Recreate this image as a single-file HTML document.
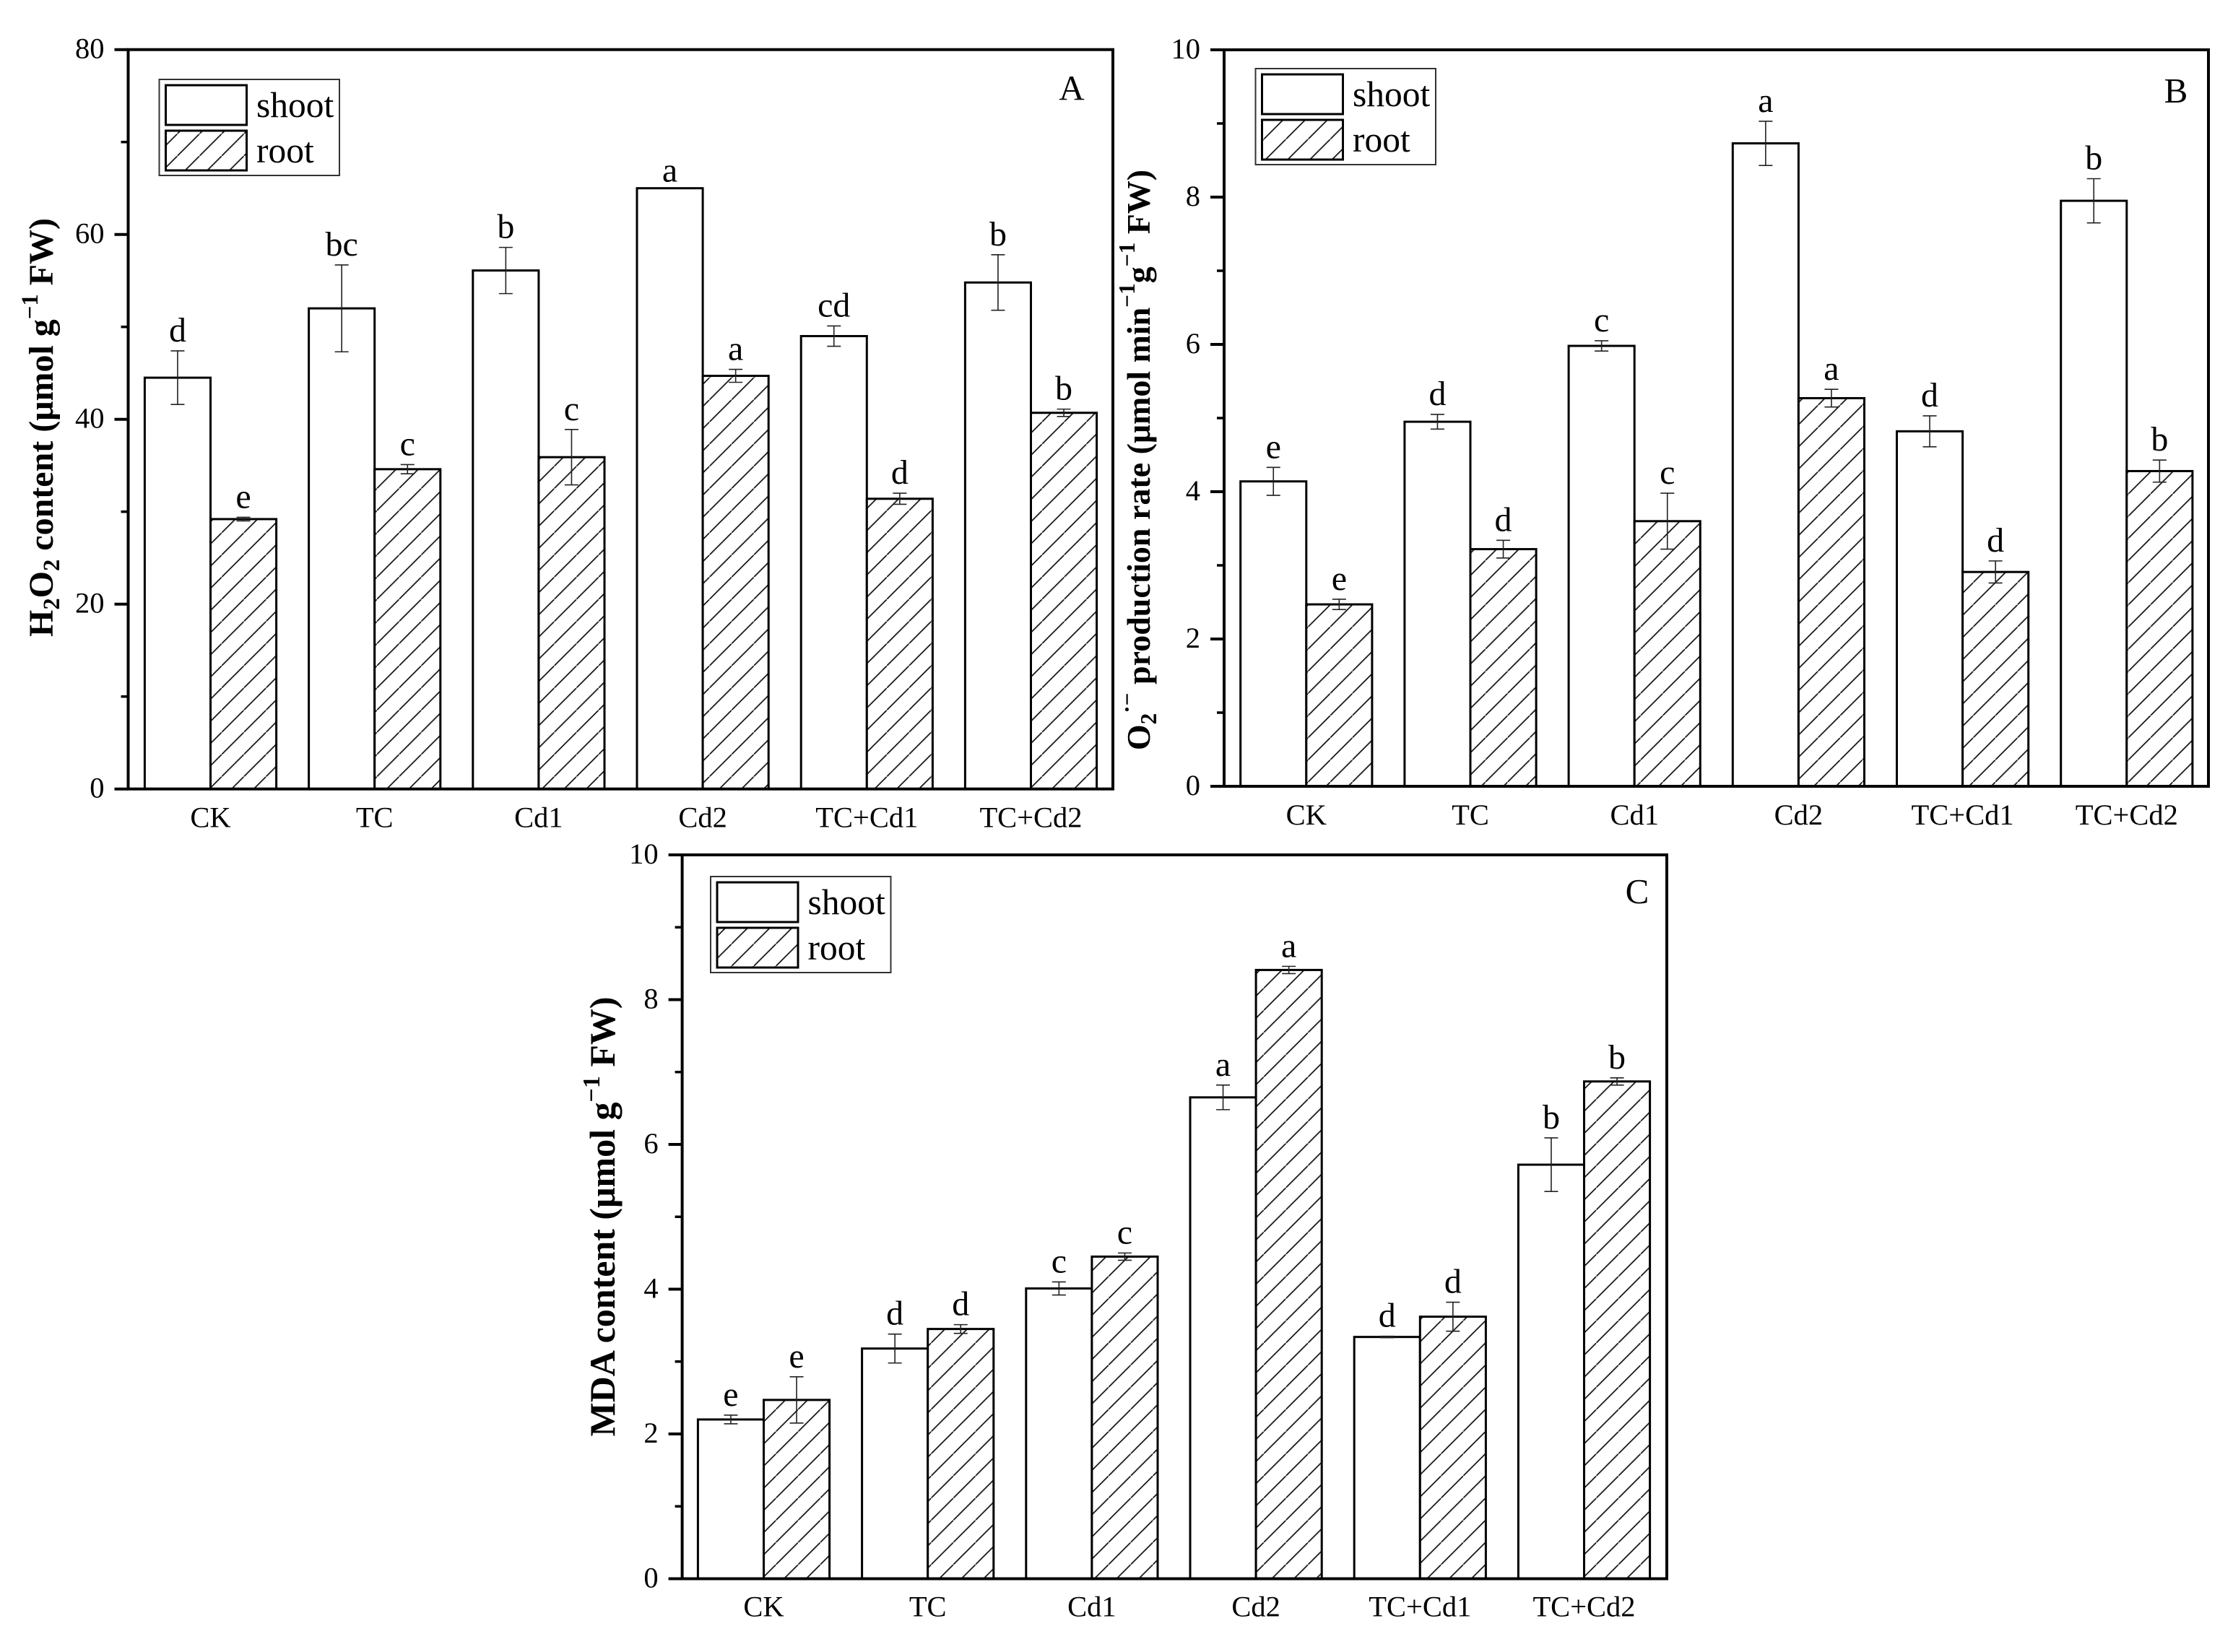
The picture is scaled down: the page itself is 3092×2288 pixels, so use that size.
<!DOCTYPE html>
<html lang="en">
<head>
<meta charset="utf-8">
<title>H2O2, O2 production and MDA content in shoot and root</title>
<style>
html,body{margin:0;padding:0;background:#fff;width:3092px;height:2288px;overflow:hidden}
svg{display:block}
text{font-family:"Liberation Serif","DejaVu Serif",serif;fill:#000}
.tick{font-size:40.5px}
.ylab{font-weight:bold}
.sm{font-size:0.68em}
</style>
</head>
<body>
<svg id="chart" xmlns="http://www.w3.org/2000/svg" width="3092" height="2288" viewBox="0 0 3092 2288">
<rect width="3092" height="2288" fill="#fff"/>
<defs id="defs"></defs>
<text class="ylab" font-size="48" transform="translate(73,592) rotate(-90)" text-anchor="middle">H<tspan class="sm" dy="9">2</tspan><tspan dy="-9">O</tspan><tspan class="sm" dy="9">2</tspan><tspan dy="-9"> content (μmol g</tspan><tspan class="sm" dy="-21">−1</tspan><tspan dy="21"> FW)</tspan></text>
<text class="ylab" font-size="46" transform="translate(1592,637) rotate(-90)" text-anchor="middle">O<tspan class="sm" dy="9">2</tspan><tspan class="sm" dy="-30">·−</tspan><tspan dy="21"> production rate (μmol min</tspan><tspan class="sm" dy="-21">−1</tspan><tspan dy="21">g</tspan><tspan class="sm" dy="-21">−1</tspan><tspan dy="21"> FW)</tspan></text>
<text class="ylab" font-size="50" transform="translate(851,1685) rotate(-90)" text-anchor="middle">MDA content (μmol g<tspan class="sm" dy="-21">−1</tspan><tspan dy="21"> FW)</tspan></text>
</svg>
<script>
const categories = ["CK", "TC", "Cd1", "Cd2", "TC+Cd1", "TC+Cd2"];

const shootA = [44.5, 52, 56.1, 65, 49, 54.8];
const rootA = [29.2, 34.6, 35.9, 44.7, 31.4, 40.7];
const shootErrA = [2.9, 4.7, 2.5, 0, 1.1, 3];
const rootErrA = [0.2, 0.5, 3, 0.7, 0.6, 0.4];
const shootLettersA = ["d", "bc", "b", "a", "cd", "b"];
const rootLettersA = ["e", "c", "c", "a", "d", "b"];
const tickLabelsA = [0, 20, 40, 60, 80];

const shootB = [4.14, 4.95, 5.98, 8.73, 4.82, 7.95];
const rootB = [2.47, 3.22, 3.6, 5.27, 2.91, 4.28];
const shootErrB = [0.19, 0.1, 0.07, 0.3, 0.21, 0.3];
const rootErrB = [0.07, 0.12, 0.38, 0.12, 0.15, 0.15];
const shootLettersB = ["e", "d", "c", "a", "d", "b"];
const rootLettersB = ["e", "d", "c", "a", "d", "b"];
const tickLabelsB = [0, 2, 4, 6, 8, 10];

const shootC = [2.2, 3.18, 4.01, 6.65, 3.34, 5.72];
const rootC = [2.47, 3.45, 4.45, 8.41, 3.62, 6.87];
const shootErrC = [0.06, 0.2, 0.09, 0.17, 0.01, 0.37];
const rootErrC = [0.32, 0.06, 0.05, 0.05, 0.2, 0.05];
const shootLettersC = ["e", "d", "c", "a", "d", "b"];
const rootLettersC = ["e", "d", "c", "a", "d", "b"];
const tickLabelsC = [0, 2, 4, 6, 8, 10];

const NS = "http://www.w3.org/2000/svg";
const svg = document.getElementById("chart");
const defs = document.getElementById("defs");
const HATCH = 30.7;

function make(parent, tag, attrs, text) {
  const el = document.createElementNS(NS, tag);
  for (const k in attrs) el.setAttribute(k, attrs[k]);
  if (text !== undefined) el.textContent = text;
  parent.appendChild(el);
  return el;
}

function drawPanel(p) {
  const group = make(svg, "g", {});
  
  

  const yMax = p.ticks[p.ticks.length - 1];
  const yScale = v => p.bottom - (v / yMax) * (p.bottom - p.top);
  const barW = 91.1, pitch = 227.2;
  const barX = (i, s) => p.firstBar + i * pitch + s * barW;

  const pat = make(defs, "pattern", {
    id: "hatch-" + p.id, patternUnits: "userSpaceOnUse",
    x: 0, y: p.hatchC % HATCH, width: HATCH, height: HATCH
  });
  make(pat, "rect", { width: HATCH, height: HATCH, fill: "#fff" });
  make(pat, "path", {
    d: "M-2," + (HATCH + 2) + "L" + (HATCH + 2) + ",-2",
    stroke: "#111", "stroke-width": 1.7, fill: "none"
  });

  [0, 1].forEach(s => {
    p.series[s].forEach((v, i) => {
      const name = (s ? "root" : "shoot") + "-bar-" + categories[i].toLowerCase().replace("+", "-");
      const y = yScale(v), x = barX(i, s);
      const bar = make(group, "rect", {
        x: x, y: y, width: barW, height: p.bottom - y,
        fill: s ? "url(#hatch-" + p.id + ")" : "#fff", stroke: "#000", "stroke-width": 3
      });
      
      
    });
  });

  [0, 1].forEach(s => {
    p.series[s].forEach((v, i) => {
      const e = p.errors[s][i];
      const cx = barX(i, s) + barW / 2;
      const topY = yScale(v + e), lowY = yScale(v - e);
      if (e > 0) {
        const err = make(group, "path", {
          d: "M" + cx + "," + topY + "V" + lowY + "M" + (cx - 9.5) + "," + topY + "h19M" + (cx - 9.5) + "," + lowY + "h19",
          stroke: "#222", "stroke-width": 1.6, fill: "none"
        });
        
        
      }
      const label = make(group, "text", {
        x: cx, y: topY - (e > 0 ? 13 : 9), "text-anchor": "middle", "font-size": 48
      }, p.letters[s][i]);
      
      
    });
  });

  const frame = make(group, "rect", {
    x: p.left, y: p.top, width: p.right - p.left, height: p.bottom - p.top,
    fill: "none", stroke: "#000", "stroke-width": 4
  });
  
  

  const step = p.ticks[1] - p.ticks[0];
  p.ticks.forEach((t, idx) => {
    const y = yScale(t);
    const tick = make(group, "line", { x1: p.left - 19, x2: p.left, y1: y, y2: y, stroke: "#000", "stroke-width": 4 });
    
    
    const lab = make(group, "text", { class: "tick", x: p.left - 33, y: y + 12, "text-anchor": "end" }, t);
    
    
    if (idx < p.ticks.length - 1) {
      const my = yScale(t + step / 2);
      const minor = make(group, "line", { x1: p.left - 10, x2: p.left, y1: my, y2: my, stroke: "#000", "stroke-width": 3.5 });
      
      
    }
  });

  categories.forEach((c, i) => {
    const lab = make(group, "text", {
      class: "tick", x: barX(i, 1), y: p.bottom + p.catOffset, "text-anchor": "middle"
    }, c);
    
    
  });

  const letter = make(group, "text", { x: p.letterX, y: p.letterY, "text-anchor": "middle", "font-size": 49 }, p.id.toUpperCase());
  
  

  const L = p.legend;
  const legend = make(group, "g", {});
  
  
  const box = make(legend, "rect", { x: L.x, y: L.y, width: 249.5, height: 133, fill: "#fff", stroke: "#333", "stroke-width": 2 });
  
  
  const sw1 = make(legend, "rect", { x: L.x + 9, y: L.y + 8, width: 112, height: 55, fill: "#fff", stroke: "#000", "stroke-width": 3 });
  
  
  const sw2 = make(legend, "rect", { x: L.x + 9, y: L.y + 71, width: 112, height: 55, fill: "url(#hatch-" + p.id + ")", stroke: "#000", "stroke-width": 3 });
  
  
  const t1 = make(legend, "text", { x: L.x + 134.5, y: L.y + 52, "font-size": 49.5 }, "shoot");
  
  
  const t2 = make(legend, "text", { x: L.x + 134.5, y: L.y + 115, "font-size": 49.5 }, "root");
  
  
}

drawPanel({
  id: "a", left: 177.5, right: 1541, top: 68.7, bottom: 1092.7, firstBar: 200.4,
  ticks: tickLabelsA, series: [shootA, rootA], errors: [shootErrA, rootErrA],
  letters: [shootLettersA, rootLettersA], catOffset: 53, hatchC: 1382.6,
  letterX: 1484, letterY: 138, legend: { x: 220.5, y: 110 }
});
drawPanel({
  id: "b", left: 1695, right: 3058, top: 69, bottom: 1089, firstBar: 1717.7,
  ticks: tickLabelsB, series: [shootB, rootB], errors: [shootErrB, rootErrB],
  letters: [shootLettersB, rootLettersB], catOffset: 53, hatchC: 3784.7,
  letterX: 3013, letterY: 142, legend: { x: 1738.5, y: 95 }
});
drawPanel({
  id: "c", left: 944.6, right: 2308, top: 1184, bottom: 2186.5, firstBar: 966.4,
  ticks: tickLabelsC, series: [shootC, rootC], errors: [shootErrC, rootErrC],
  letters: [shootLettersC, rootLettersC], catOffset: 52, hatchC: 3210.7,
  letterX: 2267, letterY: 1251, legend: { x: 984, y: 1214 }
});
</script>
</body>
</html>
